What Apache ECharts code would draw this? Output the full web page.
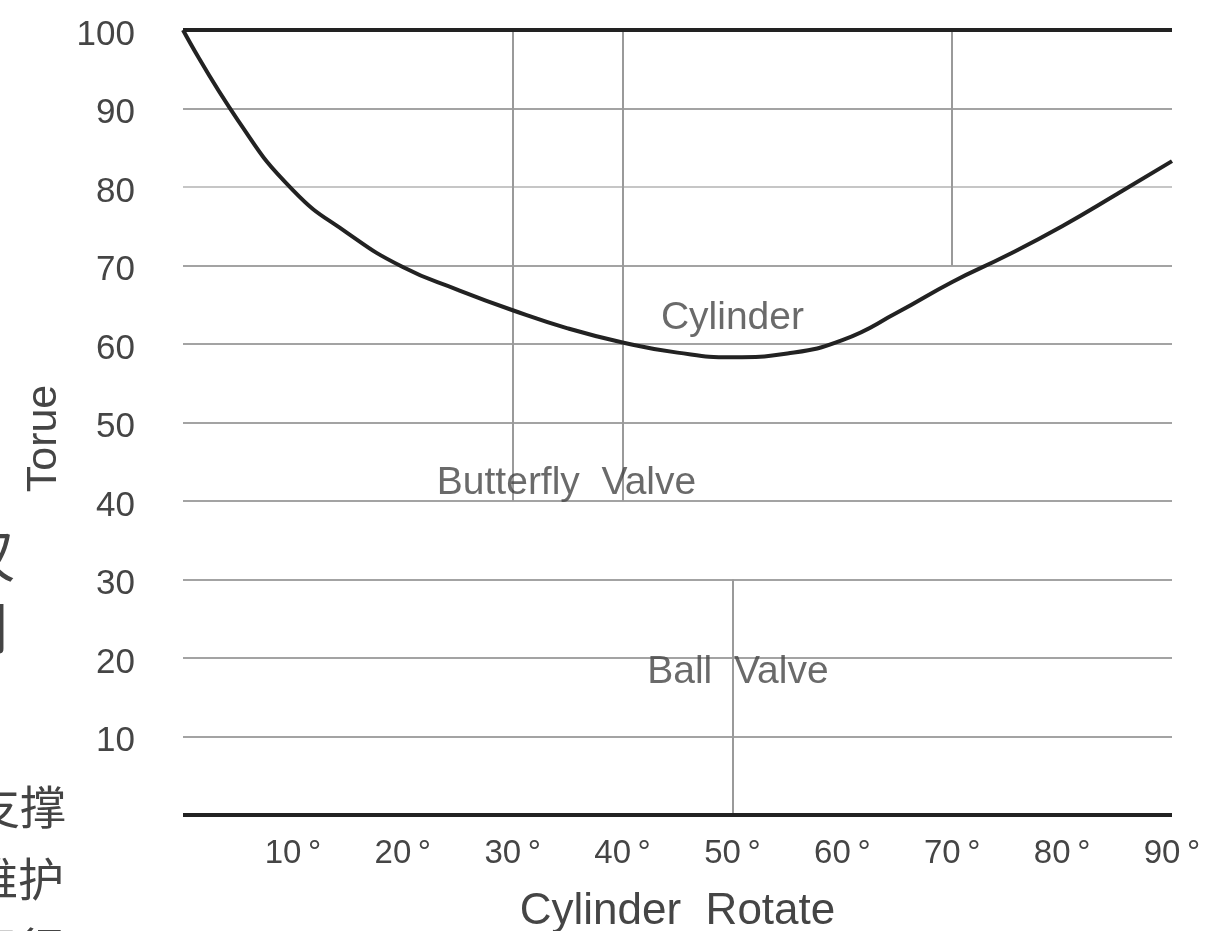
<!DOCTYPE html>
<html>
<head>
<meta charset="utf-8">
<title>Cylinder Torque</title>
<script src="https://cdn.jsdelivr.net/npm/echarts@6/dist/echarts.min.js"></script>
<style>
  html, body { margin: 0; padding: 0; background: #fff; }
  #chart { width: 1205px; height: 931px; }
</style>
</head>
<body>
<div id="chart"></div>
<script>
// cylinder torque curve (rotation angle in degrees -> torque %)
const angles = [0, 5, 10, 15, 20, 25, 30, 35, 40, 45, 50, 55, 60, 65, 70, 75, 80, 85, 90];
const torque = [100, 88.5, 79.6, 74.1, 69.8, 66.9, 64.3, 62.0, 60.2, 58.9, 58.3, 58.8, 60.5, 64.0, 67.9, 71.3, 75.0, 79.1, 83.3];

// thin vertical guide lines
const guideX = [30, 40, 50, 70];
const guideFrom = [100, 100, 30, 100];
const guideTo = [40, 40, 0, 70];

// heavy frame lines
const frameY = [100, 0];

// in-plot notes
const noteText = ['Cylinder', 'Butterfly  Valve', 'Ball  Valve'];
const noteX = [50, 34.9, 50.5];
const noteY = [63.3, 42.3, 18.2];

const xTicks = [10, 20, 30, 40, 50, 60, 70, 80, 90];
const yTicks = [10, 20, 30, 40, 50, 60, 70, 80, 90, 100];

const textColor = '#454545';
const fontFamily = '"Liberation Sans", Arial, sans-serif';
const cjkFont = '"Noto Sans CJK SC", sans-serif';

const chart = echarts.init(document.getElementById('chart'));

const guideLines = guideX.map((x, i) => [
  { coord: [x, guideFrom[i]] },
  { coord: [x, guideTo[i]] },
]);

const frameLines = frameY.map((y) => ({
  yAxis: y,
  lineStyle: { color: '#222', width: 4, type: 'solid' },
}));

// splitLine colours cycle 0,10,...,100; the 80 line is a bit paler
const splitColors = yTicks.concat([0]).map((v, i) => (i === 8 ? '#c6c6c6' : '#a3a3a3'));

const sideText = (text, x, y, size) => ({
  type: 'text',
  x,
  y,
  silent: true,
  style: { text, align: 'right', verticalAlign: 'top', fontSize: size, fill: '#444', fontFamily: cjkFont },
});

const option = {
  backgroundColor: '#fff',
  animation: false,
  grid: { left: 183, right: 33, top: 30, bottom: 116, outerBoundsMode: 'none' },
  xAxis: {
    type: 'value',
    min: 0,
    max: 90,
    interval: 10,
    name: 'Cylinder  Rotate',
    nameLocation: 'middle',
    nameGap: 75,
    nameTextStyle: { color: textColor, fontSize: 44, fontFamily },
    axisLine: { show: false },
    axisTick: { show: false },
    splitLine: { show: false },
    axisLabel: {
      color: textColor,
      fontSize: 33,
      fontFamily,
      margin: 22,
      formatter: (v) => (xTicks.includes(v) ? v + '\u2009°' : ''),
    },
  },
  yAxis: {
    type: 'value',
    min: 0,
    max: 100,
    interval: 10,
    name: 'Torue',
    nameLocation: 'middle',
    nameGap: 113,
    nameTextStyle: { color: textColor, fontSize: 43, fontFamily, padding: [0, 32, 0, 0] },
    axisLine: { show: false },
    axisTick: { show: false },
    splitLine: { show: true, lineStyle: { color: splitColors, width: 2 } },
    axisLabel: {
      color: textColor,
      fontSize: 35,
      fontFamily,
      margin: 48,
      verticalAlign: 'top',
      lineHeight: 10,
      formatter: (v) => (yTicks.includes(v) ? String(v) : ''),
    },
  },
  graphic: [
    sideText('仅', 15, 526, 58),
    sideText('用', 10, 598, 58),
    sideText('支撑', 66, 784, 46),
    sideText('维护', 64, 856, 46),
    sideText('运行', 64, 926, 46),
  ],
  series: [
    {
      name: 'Cylinder',
      type: 'line',
      data: angles.map((a, i) => [a, torque[i]]),
      smooth: 0.5,
      showSymbol: false,
      lineStyle: { color: '#222', width: 4 },
      z: 5,
      markLine: {
        silent: true,
        symbol: 'none',
        label: { show: false },
        lineStyle: { color: '#9a9a9a', width: 2, type: 'solid' },
        data: guideLines.concat(frameLines),
      },
    },
    {
      name: 'notes',
      type: 'scatter',
      symbolSize: 0,
      silent: true,
      data: noteText.map((t, i) => [noteX[i], noteY[i], t]),
      label: {
        show: true,
        position: 'inside',
        formatter: (p) => p.data[2],
        color: textColor,
        fontSize: 39,
        fontFamily,
      },
      z: 6,
    },
  ],
};

chart.setOption(option);
window.addEventListener('resize', () => chart.resize());
</script>
</body>
</html>
